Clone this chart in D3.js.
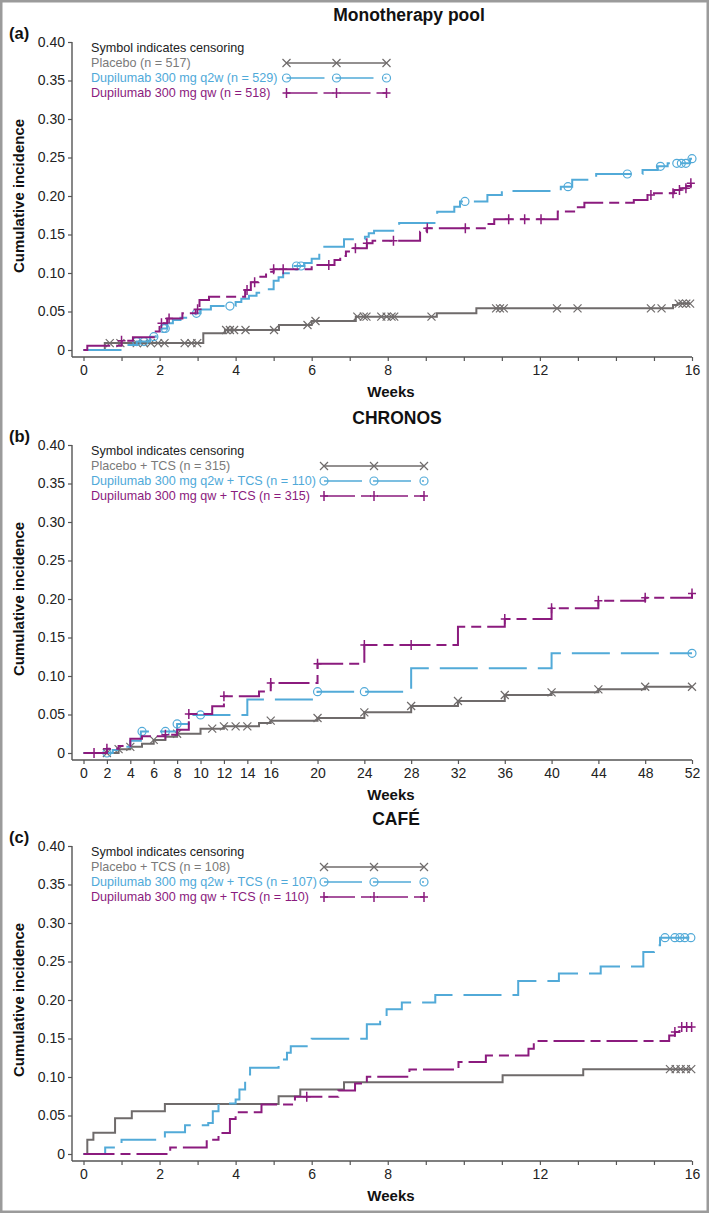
<!DOCTYPE html>
<html><head><meta charset="utf-8">
<script src="https://cdn.jsdelivr.net/npm/d3@7"></script>
<style>
body{margin:0;background:#fff}
svg{display:block}
text{font-family:"Liberation Sans",Arial,Helvetica,sans-serif}
</style>
</head><body>
<svg id="chart" width="709" height="1213"></svg>
<script>
// ---------------- DATA ----------------
const yTicks = [0,0.05,0.10,0.15,0.20,0.25,0.30,0.35,0.40];
const weekTicks16 = d3.range(0,17);
const weekLabels16 = [0,2,4,6,8,12,16];
const weekTicks52 = [0,2,4,6,8,10,12,14,16,20,24,28,32,36,40,44,48,52];
const weekLabels52 = [0,2,4,6,8,10,12,14,16,20,24,28,32,36,40,44,48,52];

const panelTitles = ["Monotherapy pool","CHRONOS","CAFÉ"];
const panelLetters = ["(a)","(b)","(c)"];
const legendA = ["Placebo (n = 517)","Dupilumab 300 mg q2w (n = 529)","Dupilumab 300 mg qw (n = 518)"];
const legendB = ["Placebo + TCS (n = 315)","Dupilumab 300 mg q2w + TCS (n = 110)","Dupilumab 300 mg qw + TCS (n = 315)"];
const legendC = ["Placebo + TCS (n = 108)","Dupilumab 300 mg q2w + TCS (n = 107)","Dupilumab 300 mg qw + TCS (n = 110)"];

// Panel (a) Monotherapy pool: [week, cumulative incidence]
const monoPlacebo = [[0,0],[0.56,0.009],[3.15,0.0216],[3.72,0.026],[5.14,0.0325],[6.0,0.0377],[7.16,0.0433],[9.29,0.0476],[10.33,0.0541],[15.5,0.0584],[15.62,0.0603]];
const monoPlaceboCens = [0.69,0.97,1.4,1.59,1.77,1.96,2.13,2.66,2.84,2.99,3.75,3.85,3.96,4.26,5.01,5.89,6.1,7.2,7.37,7.44,7.83,7.97,8.1,8.17,9.15,10.85,10.95,11.05,12.45,12.99,14.92,15.2,15.65,15.75,15.85,15.95];
const monoQ2w = [[0,0],[1.0,0.0065],[1.4,0.011],[1.75,0.0173],[1.9,0.0195],[2.05,0.028],[2.2,0.0346],[2.35,0.039],[2.55,0.042],[2.95,0.0476],[3.08,0.0525],[3.35,0.057],[4.0,0.0625],[4.15,0.0665],[4.35,0.0705],[4.55,0.0745],[4.8,0.0788],[5.0,0.09],[5.13,0.0944],[5.25,0.0996],[5.45,0.104],[5.55,0.1091],[5.8,0.113],[6.0,0.1186],[6.2,0.128],[6.3,0.134],[6.85,0.1437],[7.4,0.147],[7.5,0.1515],[7.64,0.155],[8.3,0.165],[9.3,0.1797],[9.75,0.186],[9.9,0.193],[10.62,0.2013],[11.0,0.2065],[12.55,0.2121],[12.85,0.221],[13.48,0.2286],[14.7,0.2338],[15.1,0.2385],[15.36,0.2424],[15.95,0.2485]];
const monoQ2wCens = [1.4,1.59,1.85,2.1,2.15,2.97,3.85,5.6,5.72,10.03,12.74,14.3,15.17,15.6,15.72,15.84,16.0];
const monoQw = [[0,0],[0.1,0.0056],[1.0,0.012],[1.3,0.0165],[1.9,0.024],[2.0,0.0346],[2.2,0.041],[2.6,0.0476],[2.95,0.053],[3.05,0.065],[3.3,0.0693],[4.25,0.0779],[4.4,0.088],[4.6,0.095],[4.8,0.1017],[5.0,0.105],[6.0,0.1105],[6.6,0.117],[6.75,0.122],[6.9,0.128],[7.1,0.132],[7.45,0.1385],[7.6,0.142],[8.85,0.1537],[9.02,0.158],[10.58,0.1636],[10.8,0.1697],[12.47,0.18],[12.9,0.1853],[13.17,0.1913],[14.47,0.1948],[14.83,0.2013],[15.0,0.2035],[15.53,0.2078],[15.7,0.21],[15.85,0.213],[15.97,0.2165]];
const monoQwCens = [1.0,2.05,2.25,3.0,4.3,4.5,5.0,5.25,6.45,7.15,7.45,8.15,9.04,10.04,11.18,11.6,12.03,14.92,15.5,15.67,15.84,15.97];

// Panel (b) CHRONOS
const chrPlacebo = [[0,0],[3,0.005],[4,0.008],[5,0.012],[6,0.017],[7,0.021],[8,0.025],[10,0.0316],[12,0.0346],[15,0.039],[16,0.042],[20,0.0454],[24,0.0528],[28,0.061],[32,0.0675],[36,0.0753],[40,0.0788],[44,0.0827],[48,0.0861]];
const chrPlaceboCens = [2,3,4,6,8,11,12,13,14,16,20,24,28,32,36,40,44,48,52];
const chrQ2w = [[0,0],[2.5,0.004],[3,0.008],[4,0.016],[4.9,0.028],[8,0.0377],[9,0.0494],[14,0.0696],[20,0.0797],[28,0.110],[40,0.1294]];
const chrQ2wCens = [2,5,7,8,10,20,24,52];
const chrQw = [[0,0],[2,0.0056],[3,0.009],[4,0.0186],[5,0.0216],[7,0.0238],[8,0.0303],[9,0.0506],[11,0.0606],[12,0.0736],[15,0.080],[16,0.0909],[20,0.116],[24,0.1403],[32,0.164],[36,0.174],[40,0.1879],[44,0.1978],[48,0.2017],[52,0.207]];
const chrQwCens = [0.9,2,7,9,12,16,20,24,28,36,40,44,48,52];

// Panel (c) CAFÉ
const cafPlacebo = [[0,0],[0.1,0.0186],[0.26,0.0275],[0.83,0.0465],[1.27,0.0555],[2.14,0.065],[5.13,0.075],[5.7,0.0838],[6.85,0.0933],[11.02,0.1024],[13.14,0.1102]];
const cafPlaceboCens = [15.42,15.57,15.7,15.84,15.98];
const cafQ2w = [[0,0],[0.57,0.0086],[1.0,0.0186],[2.14,0.0282],[2.67,0.0373],[3.28,0.0403],[3.4,0.0555],[3.55,0.0655],[4.0,0.0707],[4.1,0.0837],[4.25,0.1033],[4.38,0.1119],[5.13,0.1228],[5.35,0.1315],[5.45,0.140],[6.0,0.1497],[7.45,0.1684],[7.8,0.177],[7.97,0.1879],[8.37,0.1966],[9.25,0.2065],[11.43,0.2248],[12.5,0.2344],[13.6,0.2435],[14.72,0.2625],[15.0,0.2712],[15.16,0.281]];
const cafQ2wCens = [15.29,15.55,15.68,15.81,15.97];
const cafQw = [[0,0],[2.28,0.0086],[3.24,0.0186],[3.55,0.0273],[3.85,0.0456],[4.0,0.0542],[4.68,0.0642],[5.56,0.0742],[6.7,0.0825],[7.14,0.0916],[7.45,0.1003],[8.57,0.1098],[9.86,0.1194],[10.58,0.128],[11.7,0.1367],[11.84,0.1467],[15.4,0.154],[15.55,0.1584],[15.67,0.1649]];
const cafQwCens = [5.87,15.55,15.73,15.86,15.99];

// ---------------- STYLE ----------------
const colGray = "#6f6b6b", colBlue = "#52aad8", colPurple = "#8b1b7e";
const dashBlue = "38,11", dashPurple = "31,6,10,6";

const svg = d3.select("#chart");
svg.append("rect").attr("x",1.25).attr("y",1.25).attr("width",706.5).attr("height",1210.5)
  .attr("fill","#fff").attr("stroke","#9b9b9b").attr("stroke-width",2.5);

function stepVal(data, t){
  let v = 0;
  for (const d of data){ if (d[0] <= t + 1e-9) v = d[1]; }
  return v;
}

function drawSymbol(g, type, cx, cy, color){
  if (type === "x"){
    g.append("path").attr("d",`M${cx-4},${cy-4}L${cx+4},${cy+4}M${cx-4},${cy+4}L${cx+4},${cy-4}`)
      .attr("stroke",color).attr("stroke-width",1.2).attr("fill","none");
  } else if (type === "o"){
    g.append("circle").attr("cx",cx).attr("cy",cy).attr("r",4)
      .attr("stroke",color).attr("stroke-width",1.2).attr("fill","none");
  } else {
    g.append("path").attr("d",`M${cx},${cy-5}L${cx},${cy+5}M${cx-4},${cy}L${cx+4},${cy}`)
      .attr("stroke",color).attr("stroke-width",1.5).attr("fill","none");
  }
}

function panel(cfg){
  const g = svg.append("g");
  const x = d3.scaleLinear().domain([0,cfg.maxW]).range([83.5,692]);
  const y = d3.scaleLinear().domain([0,0.4]).range([cfg.y0, cfg.y0-308]);
  const axisY = cfg.y0 + 7;

  // title & letter
  g.append("text").attr("x",cfg.titleX).attr("y",cfg.y0-329).attr("text-anchor","middle")
    .attr("font-size",17.5).attr("font-weight","bold").attr("fill","#111").text(cfg.title);
  g.append("text").attr("x",9).attr("y",cfg.y0-311).attr("font-size",16.5)
    .attr("font-weight","bold").attr("fill","#111").text(cfg.letter);

  // y axis
  const ya = g.append("g").attr("transform","translate(72,0)")
    .call(d3.axisLeft(y).tickValues(yTicks).tickSize(4).tickPadding(3)
      .tickFormat(d => d === 0 ? "0" : d.toFixed(2)));
  ya.select(".domain").remove();
  ya.selectAll(".tick line").attr("stroke","#555").attr("stroke-width",1.2);
  ya.selectAll(".tick text").attr("font-size",14).attr("fill","#222")
    .style("font-family",'"Liberation Sans",Arial,sans-serif');
  g.append("line").attr("x1",72).attr("x2",72).attr("y1",y(0.4)).attr("y2",axisY)
    .attr("stroke","#555").attr("stroke-width",1.4);

  // x axis
  const xa = g.append("g").attr("transform",`translate(0,${axisY})`)
    .call(d3.axisBottom(x).tickValues(cfg.ticks).tickSize(4).tickPadding(4)
      .tickFormat(d => cfg.labels.includes(d) ? String(d) : ""));
  xa.select(".domain").remove();
  xa.selectAll(".tick line").attr("stroke","#555").attr("stroke-width",1.2);
  xa.selectAll(".tick text").attr("font-size",14).attr("fill","#222")
    .style("font-family",'"Liberation Sans",Arial,sans-serif');
  g.append("line").attr("x1",72).attr("x2",x(cfg.maxW)).attr("y1",axisY).attr("y2",axisY)
    .attr("stroke","#555").attr("stroke-width",1.4);

  g.append("text").attr("x",391).attr("y",cfg.y0+47).attr("text-anchor","middle")
    .attr("font-size",15).attr("font-weight","bold").attr("fill","#111").text("Weeks");
  g.append("text").attr("transform",`translate(24,${cfg.y0-154}) rotate(-90)`)
    .attr("text-anchor","middle").attr("font-size",15).attr("font-weight","bold")
    .attr("fill","#111").text("Cumulative incidence");

  // curves
  const line = d3.line().x(d => x(d[0])).y(d => y(d[1])).curve(d3.curveStepAfter);
  cfg.series.forEach(s => {
    const last = s.data[s.data.length-1];
    const endT = Math.max(last[0], d3.max(s.cens));
    const pts = s.data.concat([[endT, last[1]]]);
    g.append("path").attr("d", line(pts)).attr("fill","none").attr("stroke",s.color)
      .attr("stroke-width",2).attr("stroke-dasharray",s.dash);
    s.cens.forEach(t => drawSymbol(g, s.sym, x(t), y(stepVal(s.data,t)), s.color));
  });

  // legend
  const top = y(0.4);
  g.append("text").attr("x",91).attr("y",top+6).attr("dy","0.35em").attr("font-size",12.6)
    .attr("fill","#222").text("Symbol indicates censoring");
  cfg.series.forEach((s,i) => {
    const ly = top + 21 + i*15;
    g.append("text").attr("x",91).attr("y",ly).attr("dy","0.35em").attr("font-size",12.6)
      .attr("fill",s.textColor).text(cfg.legend[i]);
    g.append("line").attr("x1",cfg.lx).attr("x2",cfg.lx+100).attr("y1",ly).attr("y2",ly)
      .attr("stroke",s.color).attr("stroke-width",1.6).attr("stroke-dasharray",s.dash);
    [0,50,100].forEach(o => drawSymbol(g, s.sym, cfg.lx+o, ly, s.color));
  });
}

function seriesSet(p, q2, qw, pc, q2c, qwc){
  return [
    {data:p, cens:pc, color:colGray, textColor:"#7a7a7a", dash:null, sym:"x"},
    {data:q2, cens:q2c, color:colBlue, textColor:"#4fa9d9", dash:dashBlue, sym:"o"},
    {data:qw, cens:qwc, color:colPurple, textColor:"#8b1b7e", dash:dashPurple, sym:"+"}
  ];
}

panel({y0:350, maxW:16, ticks:weekTicks16, labels:weekLabels16, title:panelTitles[0], titleX:409,
  letter:panelLetters[0], legend:legendA, lx:286.5,
  series:seriesSet(monoPlacebo, monoQ2w, monoQw, monoPlaceboCens, monoQ2wCens, monoQwCens)});
panel({y0:753, maxW:52, ticks:weekTicks52, labels:weekLabels52, title:panelTitles[1], titleX:397,
  letter:panelLetters[1], legend:legendB, lx:324,
  series:seriesSet(chrPlacebo, chrQ2w, chrQw, chrPlaceboCens, chrQ2wCens, chrQwCens)});
panel({y0:1154, maxW:16, ticks:weekTicks16, labels:weekLabels16, title:panelTitles[2], titleX:396,
  letter:panelLetters[2], legend:legendC, lx:324,
  series:seriesSet(cafPlacebo, cafQ2w, cafQw, cafPlaceboCens, cafQ2wCens, cafQwCens)});
</script>
</body></html>
